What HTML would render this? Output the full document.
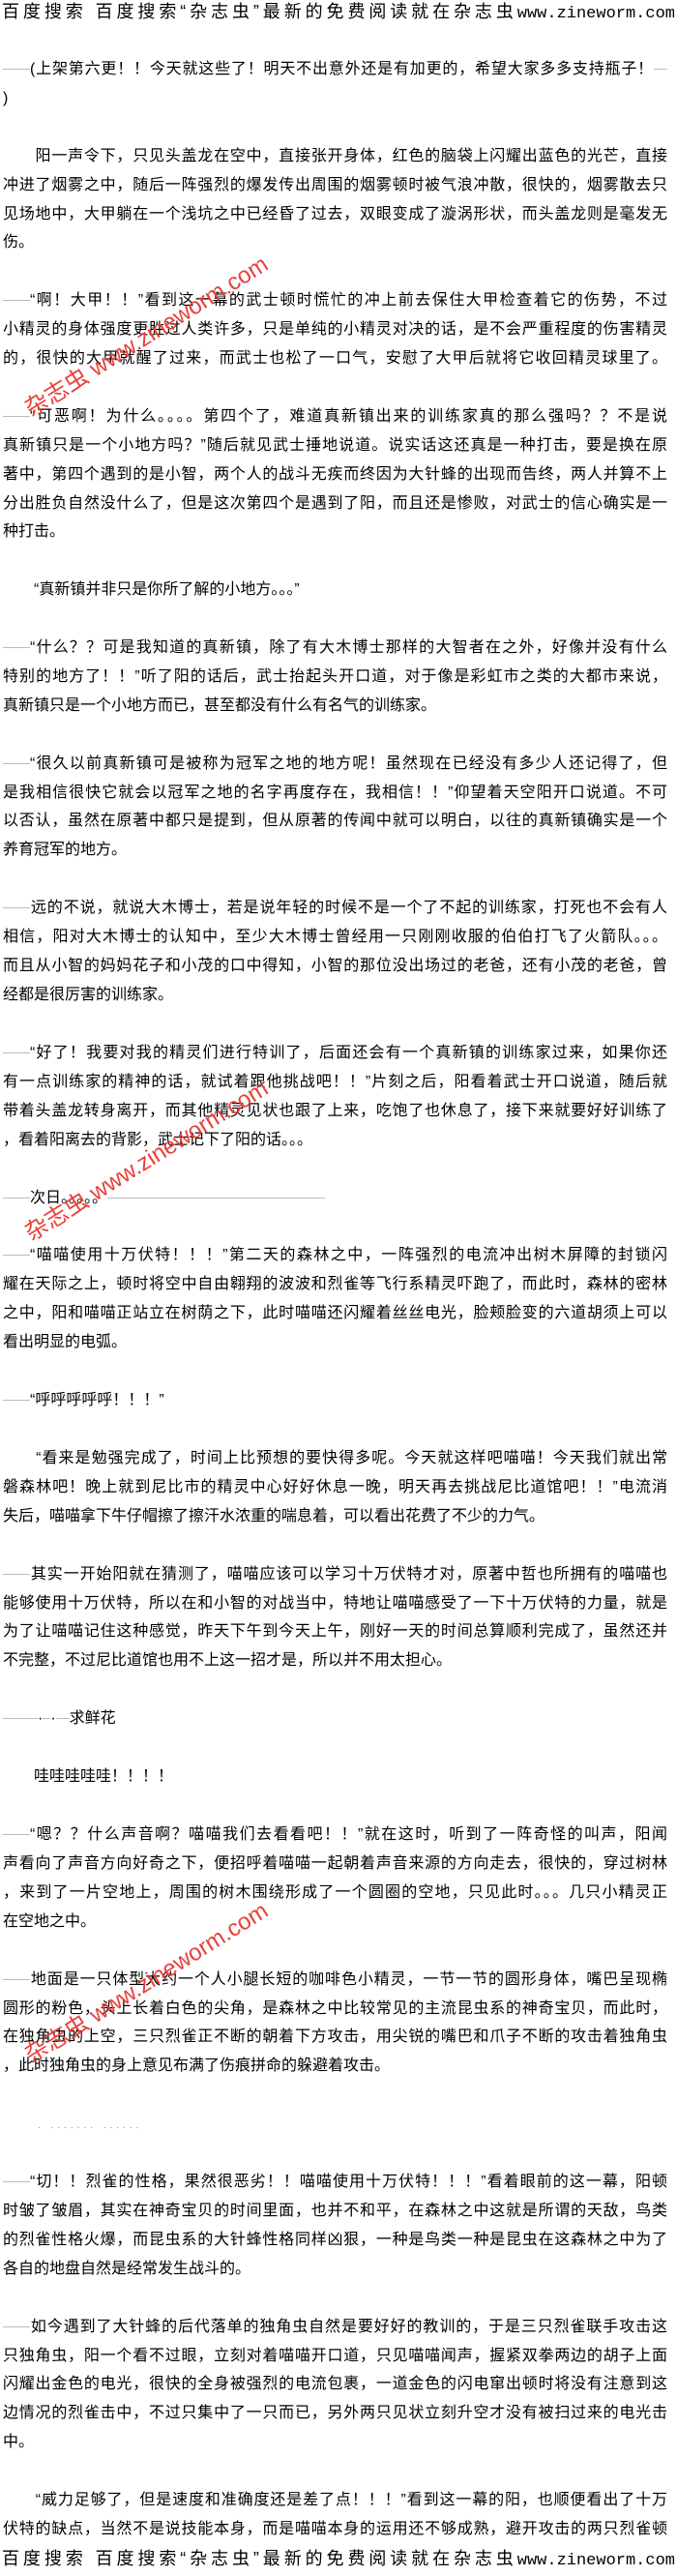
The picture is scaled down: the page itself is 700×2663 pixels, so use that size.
<!DOCTYPE html>
<html><head><meta charset="utf-8">
<style>
html,body{margin:0;padding:0;background:#fff;}
body{width:700px;height:2660px;position:relative;overflow:hidden;font-family:"Liberation Sans","Noto Sans CJK SC",sans-serif;color:#000;}
.l{position:absolute;left:3px;width:687px;height:30px;line-height:30px;font-size:16px;white-space:nowrap;}
.j{text-align:justify;text-align-last:justify;}
.h{left:2px;width:696px;font-size:18px;}
.u{font-family:"Liberation Mono",monospace;font-size:17px;}
.wm{position:absolute;width:300px;text-align:center;font-size:24px;color:#e8413a;transform:rotate(-32deg);white-space:nowrap;}
.d{color:#888;font-size:10px;letter-spacing:4px;}
.bar{display:inline-block;border-bottom:1px solid #bbb;vertical-align:middle;}
</style></head><body>
<div class="l j h" style="top:-3px">百度搜索 百度搜索“杂志虫”最新的免费阅读就在杂志虫<span class="u">www.zineworm.com</span></div>

<div class="l j" style="top:57px"><span class="bar" style="width:28px"></span>(上架第六更！！今天就这些了！明天不出意外还是有加更的，希望大家多多支持瓶子！<span class="bar" style="width:14px"></span></div>
<div class="l" style="top:87px">)</div>

<div class="l j" style="top:147px">　　阳一声令下，只见头盖龙在空中，直接张开身体，红色的脑袋上闪耀出蓝色的光芒，直接</div>
<div class="l j" style="top:177px">冲进了烟雾之中，随后一阵强烈的爆发传出周围的烟雾顿时被气浪冲散，很快的，烟雾散去只</div>
<div class="l j" style="top:207px">见场地中，大甲躺在一个浅坑之中已经昏了过去，双眼变成了漩涡形状，而头盖龙则是毫发无</div>
<div class="l" style="top:236px">伤。</div>

<div class="l j" style="top:296px"><span class="bar" style="width:28px"></span>“啊！大甲！！”看到这一幕的武士顿时慌忙的冲上前去保住大甲检查着它的伤势，不过</div>
<div class="l j" style="top:326px">小精灵的身体强度更胜过人类许多，只是单纯的小精灵对决的话，是不会严重程度的伤害精灵</div>
<div class="l j" style="top:356px">的，很快的大甲就醒了过来，而武士也松了一口气，安慰了大甲后就将它收回精灵球里了。</div>

<div class="l j" style="top:416px"><span class="bar" style="width:28px"></span>“可恶啊！为什么。。。。第四个了，难道真新镇出来的训练家真的那么强吗？？不是说</div>
<div class="l j" style="top:446px">真新镇只是一个小地方吗？”随后就见武士捶地说道。说实话这还真是一种打击，要是换在原</div>
<div class="l j" style="top:476px">著中，第四个遇到的是小智，两个人的战斗无疾而终因为大针蜂的出现而告终，两人并算不上</div>
<div class="l j" style="top:506px">分出胜负自然没什么了，但是这次第四个是遇到了阳，而且还是惨败，对武士的信心确实是一</div>
<div class="l" style="top:535px">种打击。</div>

<div class="l" style="top:595px">　　“真新镇并非只是你所了解的小地方。。。”</div>

<div class="l j" style="top:655px"><span class="bar" style="width:28px"></span>“什么？？可是我知道的真新镇，除了有大木博士那样的大智者在之外，好像并没有什么</div>
<div class="l j" style="top:685px">特别的地方了！！”听了阳的话后，武士抬起头开口道，对于像是彩虹市之类的大都市来说，</div>
<div class="l" style="top:715px">真新镇只是一个小地方而已，甚至都没有什么有名气的训练家。</div>

<div class="l j" style="top:775px"><span class="bar" style="width:28px"></span>“很久以前真新镇可是被称为冠军之地的地方呢！虽然现在已经没有多少人还记得了，但</div>
<div class="l j" style="top:805px">是我相信很快它就会以冠军之地的名字再度存在，我相信！！”仰望着天空阳开口说道。不可</div>
<div class="l j" style="top:834px">以否认，虽然在原著中都只是提到，但从原著的传闻中就可以明白，以往的真新镇确实是一个</div>
<div class="l" style="top:864px">养育冠军的地方。</div>

<div class="l j" style="top:924px"><span class="bar" style="width:28px"></span>远的不说，就说大木博士，若是说年轻的时候不是一个了不起的训练家，打死也不会有人</div>
<div class="l j" style="top:954px">相信，阳对大木博士的认知中，至少大木博士曾经用一只刚刚收服的伯伯打飞了火箭队。。。</div>
<div class="l j" style="top:984px">而且从小智的妈妈花子和小茂的口中得知，小智的那位没出场过的老爸，还有小茂的老爸，曾</div>
<div class="l" style="top:1014px">经都是很厉害的训练家。</div>

<div class="l j" style="top:1074px"><span class="bar" style="width:28px"></span>“好了！我要对我的精灵们进行特训了，后面还会有一个真新镇的训练家过来，如果你还</div>
<div class="l j" style="top:1104px">有一点训练家的精神的话，就试着跟他挑战吧！！”片刻之后，阳看着武士开口说道，随后就</div>
<div class="l j" style="top:1134px">带着头盖龙转身离开，而其他精灵见状也跟了上来，吃饱了也休息了，接下来就要好好训练了</div>
<div class="l" style="top:1164px">，看着阳离去的背影，武士记下了阳的话。。。</div>

<div class="l" style="top:1224px"><span class="bar" style="width:28px"></span>次日。。。。。<span class="bar" style="width:225px"></span></div>

<div class="l j" style="top:1283px"><span class="bar" style="width:28px"></span>“喵喵使用十万伏特！！！”第二天的森林之中，一阵强烈的电流冲出树木屏障的封锁闪</div>
<div class="l j" style="top:1313px">耀在天际之上，顿时将空中自由翱翔的波波和烈雀等飞行系精灵吓跑了，而此时，森林的密林</div>
<div class="l j" style="top:1343px">之中，阳和喵喵正站立在树荫之下，此时喵喵还闪耀着丝丝电光，脸颊脸变的六道胡须上可以</div>
<div class="l" style="top:1373px">看出明显的电弧。</div>

<div class="l" style="top:1433px"><span class="bar" style="width:28px"></span>“呼呼呼呼呼！！！”</div>

<div class="l j" style="top:1493px">　　“看来是勉强完成了，时间上比预想的要快得多呢。今天就这样吧喵喵！今天我们就出常</div>
<div class="l j" style="top:1523px">磐森林吧！晚上就到尼比市的精灵中心好好休息一晚，明天再去挑战尼比道馆吧！！”电流消</div>
<div class="l" style="top:1553px">失后，喵喵拿下牛仔帽擦了擦汗水浓重的喘息着，可以看出花费了不少的力气。</div>

<div class="l j" style="top:1613px"><span class="bar" style="width:28px"></span>其实一开始阳就在猜测了，喵喵应该可以学习十万伏特才对，原著中哲也所拥有的喵喵也</div>
<div class="l j" style="top:1643px">能够使用十万伏特，所以在和小智的对战当中，特地让喵喵感受了一下十万伏特的力量，就是</div>
<div class="l j" style="top:1672px">为了让喵喵记住这种感觉，昨天下午到今天上午，刚好一天的时间总算顺利完成了，虽然还并</div>
<div class="l" style="top:1702px">不完整，不过尼比道馆也用不上这一招才是，所以并不用太担心。</div>

<div class="l" style="top:1762px"><span class="bar" style="width:36px"></span>·<span class="bar" style="width:8px"></span>·<span class="bar" style="width:14px"></span>求鲜花</div>

<div class="l" style="top:1822px">　　哇哇哇哇哇！！！！</div>

<div class="l j" style="top:1882px"><span class="bar" style="width:28px"></span>“嗯？？什么声音啊？喵喵我们去看看吧！！”就在这时，听到了一阵奇怪的叫声，阳闻</div>
<div class="l j" style="top:1912px">声看向了声音方向好奇之下，便招呼着喵喵一起朝着声音来源的方向走去，很快的，穿过树林</div>
<div class="l j" style="top:1942px">，来到了一片空地上，周围的树木围绕形成了一个圆圈的空地，只见此时。。。几只小精灵正</div>
<div class="l" style="top:1972px">在空地之中。</div>

<div class="l j" style="top:2032px"><span class="bar" style="width:28px"></span>地面是一只体型大约一个人小腿长短的咖啡色小精灵，一节一节的圆形身体，嘴巴呈现椭</div>
<div class="l j" style="top:2062px">圆形的粉色，头上长着白色的尖角，是森林之中比较常见的主流昆虫系的神奇宝贝，而此时，</div>
<div class="l j" style="top:2091px">在独角虫的上空，三只烈雀正不断的朝着下方攻击，用尖锐的嘴巴和爪子不断的攻击着独角虫</div>
<div class="l" style="top:2121px">，此时独角虫的身上意见布满了伤痕拼命的躲避着攻击。</div>

<div class="l" style="top:2181px"><span style="display:inline-block;width:36px"></span><span class="d">. ....... ......</span></div>

<div class="l j" style="top:2241px"><span class="bar" style="width:28px"></span>“切！！烈雀的性格，果然很恶劣！！喵喵使用十万伏特！！！”看着眼前的这一幕，阳顿</div>
<div class="l j" style="top:2271px">时皱了皱眉，其实在神奇宝贝的时间里面，也并不和平，在森林之中这就是所谓的天敌，鸟类</div>
<div class="l j" style="top:2301px">的烈雀性格火爆，而昆虫系的大针蜂性格同样凶狠，一种是鸟类一种是昆虫在这森林之中为了</div>
<div class="l" style="top:2331px">各自的地盘自然是经常发生战斗的。</div>

<div class="l j" style="top:2391px"><span class="bar" style="width:28px"></span>如今遇到了大针蜂的后代落单的独角虫自然是要好好的教训的，于是三只烈雀联手攻击这</div>
<div class="l j" style="top:2421px">只独角虫，阳一个看不过眼，立刻对着喵喵开口道，只见喵喵闻声，握紧双拳两边的胡子上面</div>
<div class="l j" style="top:2450px">闪耀出金色的电光，很快的全身被强烈的电流包裹，一道金色的闪电窜出顿时将没有注意到这</div>
<div class="l j" style="top:2480px">边情况的烈雀击中，不过只集中了一只而已，另外两只见状立刻升空才没有被扫过来的电光击</div>
<div class="l" style="top:2510px">中。</div>

<div class="l j" style="top:2570px">　　“威力足够了，但是速度和准确度还是差了点！！！”看到这一幕的阳，也顺便看出了十万</div>
<div class="l j" style="top:2600px">伏特的缺点，当然不是说技能本身，而是喵喵本身的运用还不够成熟，避开攻击的两只烈雀顿</div>
<div class="l j h" style="top:2630px">百度搜索 百度搜索“杂志虫”最新的免费阅读就在杂志虫<span class="u">www.zineworm.com</span></div>

<div class="wm" style="left:0px;top:328px">杂志虫 www.zineworm.com</div>
<div class="wm" style="left:0px;top:1180px">杂志虫 www.zineworm.com</div>
<div class="wm" style="left:0px;top:2030px">杂志虫 www.zineworm.com</div>
</body></html>
